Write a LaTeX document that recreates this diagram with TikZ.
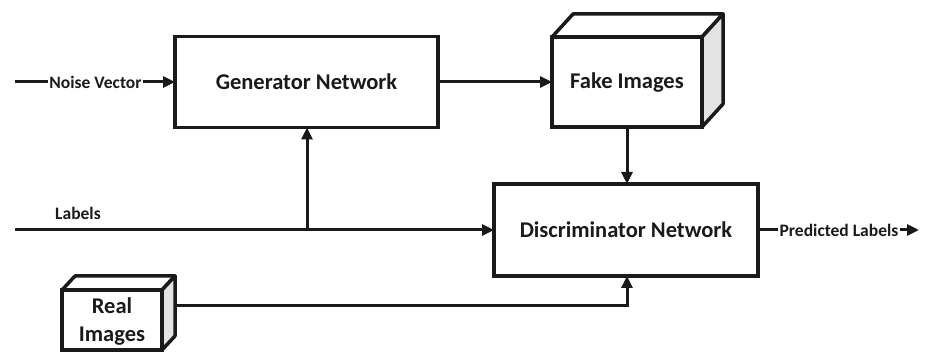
\documentclass[tikz,border=0pt]{standalone}
\usepackage{fontspec}
\setmainfont{Carlito}
\usetikzlibrary{arrows.meta,calc}
\definecolor{sidegray}{HTML}{E3E3E3}
\definecolor{inkc}{HTML}{1A1A1A}
\begin{document}
\begin{tikzpicture}[x=1pt,y=-1pt,
  box/.style={draw=inkc, line width=3.5pt, inner sep=0pt, outer sep=0pt, fill=white,
    text=inkc, font=\bfseries\fontsize{22.5}{28}\selectfont, align=center},
  face/.style={draw=inkc, line width=3.5pt, line join=round, fill=white},
  side/.style={draw=inkc, line width=3.5pt, line join=round, fill=sidegray},
  line/.style={draw=inkc, line width=3pt},
  conn/.style={draw=inkc, line width=3pt, -{Triangle[length=12pt,width=11pt]}},
  lbl/.style={text=inkc, font=\bfseries\fontsize{17.5}{20}\selectfont, inner sep=1pt},
  bigtxt/.style={text=inkc, font=\bfseries\fontsize{22.5}{28}\selectfont, align=center, inner sep=0pt}]
\useasboundingbox (0,0) rectangle (928,352);
% boxes
\node[box, minimum width=263pt, minimum height=91pt] (gen) at (306.5,82) {Generator Network};
\node[box, minimum width=264pt, minimum height=92pt] (disc) at (626,230) {Discriminator Network};
% fake images cube
\node[box, minimum width=150pt, minimum height=90pt] (fake) at (627,82) {};
\node[bigtxt] (faket) at (627,83) {Fake Images};
\draw[face] (fake.north west) -- ++(21,-23) -- ++(150,0) -- (fake.north east) -- cycle;
\draw[side] (fake.north east) -- ++(21,-23) -- ++(0,90) -- (fake.south east) -- cycle;
% real images cube
\node[box, minimum width=100pt, minimum height=60pt] (real) at (112,320) {};
\node[bigtxt] (realt) at (112,322) {Real\\Images};
\draw[face] (real.north west) -- ++(13,-14) -- ++(100,0) -- (real.north east) -- cycle;
\draw[side] (real.north east) -- ++(13,-14) -- ++(0,60) -- (real.south east) -- cycle;
% noise vector
\coordinate (n0) at (15,82);
\node[lbl] (noise) at (95.5,82) {Noise Vector};
\draw[line] (n0) -- (noise.west);
\draw[conn] (noise.east) -- (gen.west);
% generator to fake
\draw[conn] (gen.east) -- (fake.west);
% fake to discriminator
\draw[conn] (fake.south) -- (fake.south |- disc.north);
% labels
\coordinate (l0) at (15,230);
\coordinate (j) at (307,230);
\node[lbl] (labels) at (78,213) {Labels};
\draw[conn] (l0) -- (disc.west);
\draw[conn] (j) -- (j |- gen.south);
% real to discriminator
\coordinate (r0) at (175,306);
\draw[conn] (r0) -- (r0 -| fake.south) -- (fake.south |- disc.south);
% predicted labels
\node[lbl] (pred) at (839,230) {Predicted Labels};
\coordinate (p1) at (919,230);
\draw[line] (disc.east) -- (pred.west);
\draw[conn] (pred.east) -- (p1);
\end{tikzpicture}
\end{document}
